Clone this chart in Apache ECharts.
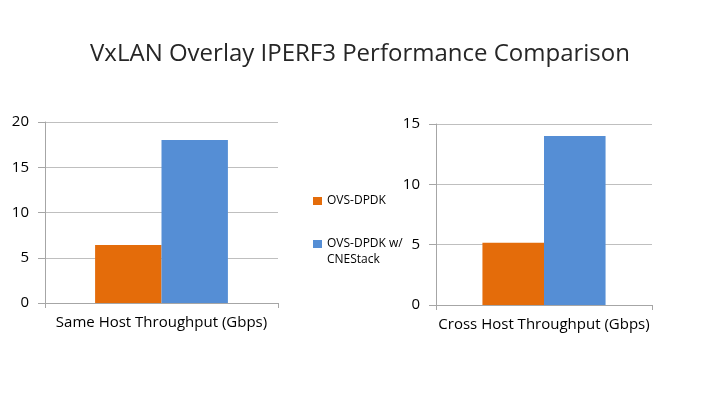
<!DOCTYPE html>
<head>
    <meta charset="utf-8" />
    <title>VxLAN Overlay IPERF3</title>
    <style>
        html, body { margin: 0; padding: 0; background: #fff; }
    </style>
</head>
<body>
    <div style="width: 720px; height: 405px;" id="container"></div>

<script src="https://cdn.jsdelivr.net/npm/echarts@6/dist/echarts.min.js"></script>
<script type="text/javascript">

    var seriesNames = ['OVS-DPDK', 'OVS-DPDK w/ CNEStack'];
    var sameHostCat = ['Same Host Throughput (Gbps)'];
    var crossHostCat = ['Cross Host Throughput (Gbps)'];
    var sameHost = [6.4, 18];
    var crossHost = [5.15, 14];
    var colors = ['#E46C0A', '#558ED5'];

    var font = '"Open Sans", "Noto Sans", sans-serif';

    function yAxis(idx, max) {
        return {
            type: 'value', gridIndex: idx, min: 0, max: max, interval: 5,
            axisLine: { show: true, lineStyle: { color: '#a6a6a6' } },
            axisTick: { show: true, length: 7, lineStyle: { color: '#a6a6a6' } },
            splitLine: { lineStyle: { color: '#bfbfbf' } },
            axisLabel: { margin: 16, fontSize: 15, color: '#000', fontFamily: font }
        };
    }
    function xAxis(idx, cats) {
        return {
            type: 'category', gridIndex: idx, data: cats,
            axisLine: { lineStyle: { color: '#a6a6a6' } },
            axisTick: { show: true, length: 5, lineStyle: { color: '#a6a6a6' } },
            axisLabel: { margin: 12, fontSize: 15, color: '#000', fontFamily: font }
        };
    }

    var chart = echarts.init(document.getElementById('container'));

    chart.setOption({
        animation: false,
        title: {
            text: 'VxLAN Overlay IPERF3 Performance Comparison',
            left: 'center', top: 37,
            textStyle: { fontSize: 24, fontWeight: 'normal', color: '#262626', fontFamily: font }
        },
        legend: {
            orient: 'vertical',
            left: 313, top: 193,
            padding: 0,
            itemWidth: 9, itemHeight: 8, itemGap: 11,
            icon: 'rect',
            textStyle: { fontSize: 12, color: '#000', fontFamily: font, lineHeight: 16 },
            data: seriesNames,
            // icon sits on the first line of the wrapped name
            formatter: function (n) {
                return n.indexOf(' w/ ') > 0 ? '\n' + n.replace(' w/ ', ' w/\n') : n;
            }
        },
        grid: [
            { left: 45, right: 442, top: 122, bottom: 102 },
            { left: 436, right: 68, top: 124, bottom: 100 }
        ],
        xAxis: [xAxis(0, sameHostCat), xAxis(1, crossHostCat)],
        yAxis: [yAxis(0, 20), yAxis(1, 15)],
        series: [
            { name: seriesNames[0], type: 'bar', xAxisIndex: 0, yAxisIndex: 0, data: [sameHost[0]], itemStyle: { color: colors[0] }, barGap: 0, barCategoryGap: '43%' },
            { name: seriesNames[1], type: 'bar', xAxisIndex: 0, yAxisIndex: 0, data: [sameHost[1]], itemStyle: { color: colors[1] }, barGap: 0, barCategoryGap: '43%' },
            { name: seriesNames[0], type: 'bar', xAxisIndex: 1, yAxisIndex: 1, data: [crossHost[0]], itemStyle: { color: colors[0] }, barGap: 0, barCategoryGap: '43%' },
            { name: seriesNames[1], type: 'bar', xAxisIndex: 1, yAxisIndex: 1, data: [crossHost[1]], itemStyle: { color: colors[1] }, barGap: 0, barCategoryGap: '43%' }
        ]
    });

</script>
</body>
